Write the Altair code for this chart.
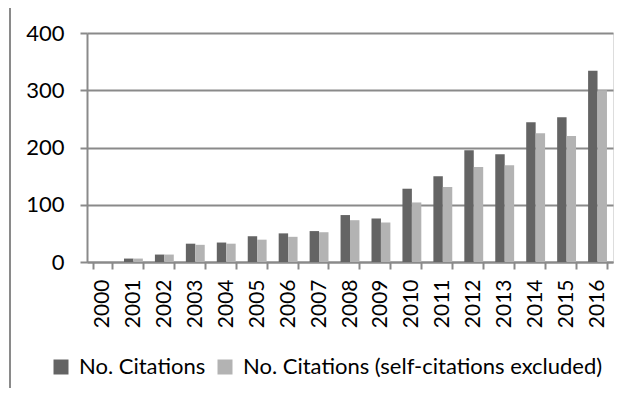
import altair as alt
import pandas as pd

years = [str(y) for y in range(2000, 2017)]
citations = [0, 6, 13, 32, 34, 45, 50, 54, 82, 76, 128, 150, 195, 188, 244, 253, 334]
excluded = [0, 6, 13, 30, 32, 39, 44, 52, 73, 69, 104, 131, 166, 169, 225, 220, 300]
series = ["No. Citations", "No. Citations (self-citations excluded)"]
colors = ["#646464", "#b3b3b3"]

rows = []
for i, y in enumerate(years):
    rows.append({"year": y, "series": series[0], "value": citations[i]})
    rows.append({"year": y, "series": series[1], "value": excluded[i]})
df = pd.DataFrame(rows)

FONT = "Lato"
GRAY = "#8a8a8a"

bars = alt.Chart(df).mark_bar().encode(
    x=alt.X("year:N", sort=years, title=None,
            scale=alt.Scale(paddingInner=0.39, paddingOuter=0.195),
            axis=alt.Axis(labelAngle=270, labelFont=FONT, labelFontSize=21,
                          labelColor="black", labelPadding=10,
                          tickBand="extent", tickSize=7, tickColor=GRAY,
                          tickWidth=2, domainColor=GRAY, domainWidth=2,
                          grid=False)),
    xOffset=alt.XOffset("series:N", sort=series, scale=alt.Scale(paddingInner=0, paddingOuter=0)),
    y=alt.Y("value:Q", title=None,
            scale=alt.Scale(domain=[0, 400]),
            axis=alt.Axis(values=[0, 100, 200, 300, 400], labelFont=FONT,
                          labelFontSize=22, labelColor="black", labelPadding=16,
                          tickSize=7, tickColor=GRAY, tickWidth=2,
                          domainColor=GRAY, domainWidth=2,
                          grid=True, gridColor=GRAY, gridWidth=2)),
    color=alt.Color("series:N", sort=series,
                    scale=alt.Scale(domain=series, range=colors),
                    legend=alt.Legend(title=None, orient="none", direction="horizontal",
                                      legendX=-37, legendY=323,
                                      symbolType="square", symbolSize=225,
                                      symbolStrokeWidth=0, labelFont=FONT,
                                      labelFontSize=22, labelColor="black",
                                      labelLimit=600, labelOffset=7,
                                      columnPadding=8)),
)

border = alt.Chart(pd.DataFrame({"a": [0]})).mark_rule(color=GRAY, strokeWidth=2).encode(
    x=alt.value(-77), y=alt.value(-25), y2=alt.value(355)
)

chart = alt.layer(border, bars).properties(
    width=526, height=229,
    autosize=alt.AutoSizeParams(type="none"),
    padding={"left": 79, "top": 25, "right": 10, "bottom": 126},
).configure_view(stroke=None).configure(background="white")

chart.save("out.html", embed_options={"renderer": "svg", "actions": False})
